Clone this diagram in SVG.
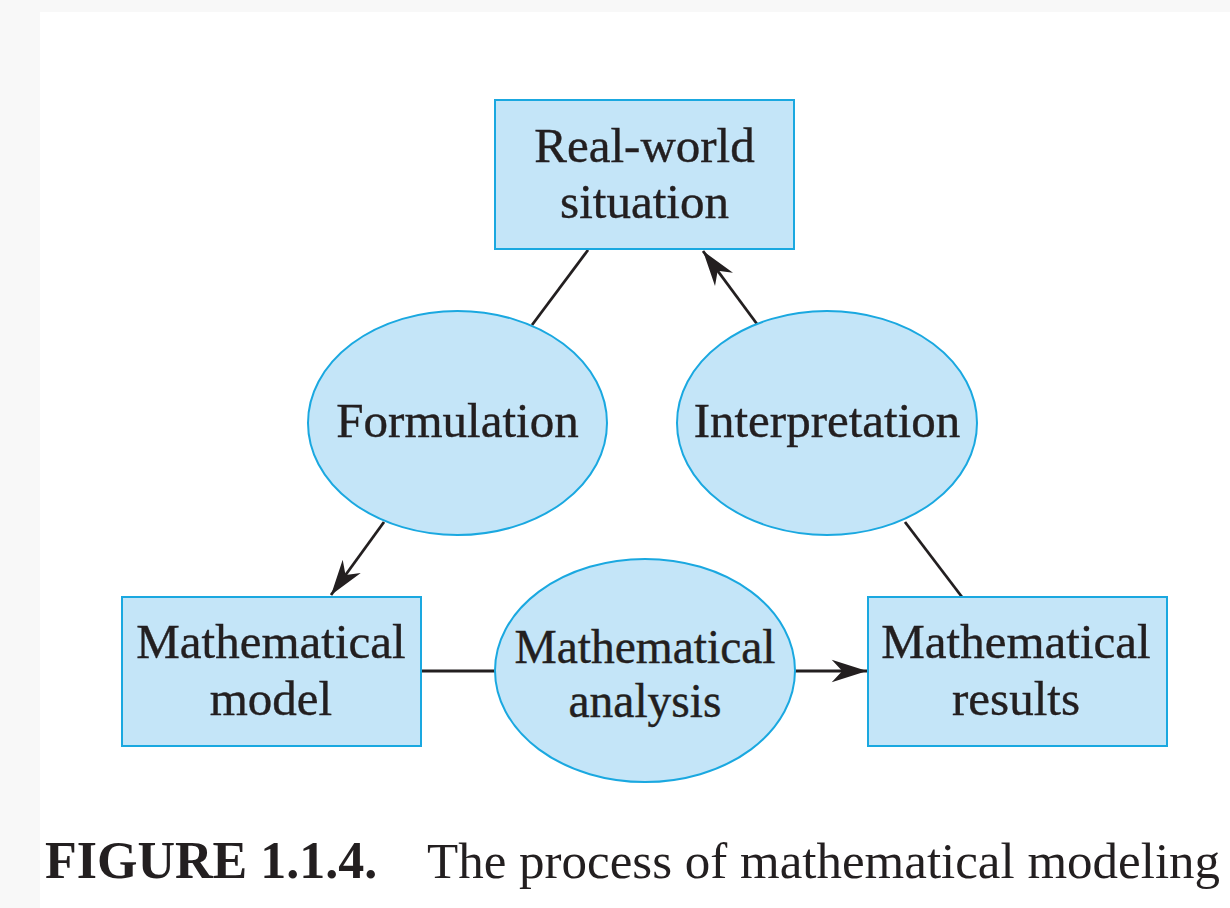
<svg xmlns="http://www.w3.org/2000/svg" width="1230" height="908" viewBox="0 0 1230 908">
<style>
.box{fill:#c4e5f8;stroke:#1aa8e0;stroke-width:2}
.ell{fill:#c4e5f8;stroke:#1aa8e0;stroke-width:2}
.lbl{font-family:"Liberation Serif","Times New Roman",serif;font-size:49px;fill:#231f20;stroke:#231f20;stroke-width:0.4;text-anchor:middle}
.conn{stroke:#231f20;stroke-width:2.8;fill:none}
.cap{font-family:"Liberation Serif","Times New Roman",serif;font-size:52px;fill:#231f20}
</style>
<defs>
<marker id="arr" markerUnits="userSpaceOnUse" markerWidth="40" markerHeight="30" viewBox="-32 -12 34 24" refX="0" refY="0" orient="auto">
<path d="M0,0 L-30,-9.5 L-21,0 L-30,9.5 Z" fill="#231f20"/>
</marker>
</defs>
<rect x="0" y="0" width="1230" height="908" fill="#f8f8f8"/>
<rect x="40" y="12" width="1190" height="896" fill="#ffffff"/>
<g id="connectors">
<line class="conn" x1="588" y1="250" x2="532" y2="325"/>
<line class="conn" x1="384" y1="522" x2="331" y2="595" marker-end="url(#arr)"/>
<line class="conn" x1="757" y1="324" x2="703" y2="251" marker-end="url(#arr)"/>
<line class="conn" x1="905" y1="522" x2="962" y2="597"/>
<line class="conn" x1="421" y1="671" x2="495" y2="671"/>
<line class="conn" x1="795" y1="671" x2="867" y2="671" marker-end="url(#arr)"/>
</g>
<g id="real-world">
<rect class="box" x="495" y="100" width="299" height="149"/>
<text class="lbl" x="644.5" y="162">Real-world</text>
<text class="lbl" x="644.5" y="218">situation</text>
</g>
<g id="formulation">
<ellipse class="ell" cx="457.5" cy="423" rx="149.5" ry="112"/>
<text class="lbl" x="457.5" y="437">Formulation</text>
</g>
<g id="interpretation">
<ellipse class="ell" cx="827" cy="423" rx="150" ry="112"/>
<text class="lbl" x="827" y="437">Interpretation</text>
</g>
<g id="model">
<rect class="box" x="122" y="597" width="299" height="149"/>
<text class="lbl" x="271" y="658">Mathematical</text>
<text class="lbl" x="271" y="715">model</text>
</g>
<g id="analysis">
<ellipse class="ell" cx="645" cy="670.5" rx="150" ry="111.5"/>
<text class="lbl" x="645" y="663" style="font-size:47.5px">Mathematical</text>
<text class="lbl" x="645" y="717" style="font-size:47.5px">analysis</text>
</g>
<g id="results">
<rect class="box" x="868" y="597" width="299" height="149"/>
<text class="lbl" x="1016" y="658">Mathematical</text>
<text class="lbl" x="1016" y="715">results</text>
</g>
<g id="caption">
<text class="cap" x="45" y="878" style="font-weight:bold">FIGURE 1.1.4.</text>
<text class="cap" x="427" y="878" style="font-size:51px">The process of mathematical modeling</text>
</g>
</svg>
